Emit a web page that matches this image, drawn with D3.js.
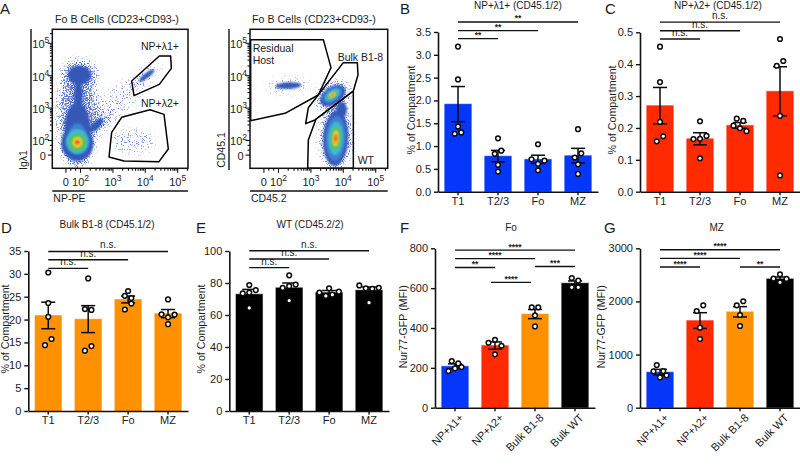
<!DOCTYPE html>
<html>
<head>
<meta charset="utf-8">
<script src="https://cdn.jsdelivr.net/npm/d3@7"></script>
<style>
  html, body { margin: 0; padding: 0; background: #fff; }
  svg text { font-family: "Liberation Sans", Arial, sans-serif; fill: #1c1c1c; }
</style>
</head>
<body>
<svg id="chart" width="800" height="472"></svg>
<script>
// *********** DATA ***************** //
var compartments = ["T1", "T2/3", "Fo", "MZ"];
var populations = ["NP+λ1+", "NP+λ2+", "Bulk B1-8", "Bulk WT"];
var compartmentColors = { b: "#0537fb", c: "#ff2a00", d: "#ff9100", e: "#000000" };
var populationColors = ["#0537fb", "#ff2a00", "#ff9100", "#000000"];

var bMeans = [1.92, 0.78, 0.71, 0.79];
var bSem = [0.385, 0.125, 0.09, 0.16];
var bPoints = [[3.18, 2.46, 1.43, 1.27, 1.30], [1.17, 0.83, 0.90, 0.59, 0.44], [1.04, 0.71, 0.61, 0.68, 0.47], [1.37, 0.75, 0.84, 0.60, 0.39]];
var bSigFrom = [0, 0, 0], bSigTo = [1, 2, 3], bSigLabels = ["**", "**", "**"], bSigLevels = [3.355, 3.53, 3.72];

var cMeans = [0.27, 0.166, 0.208, 0.315];
var cSem = [0.057, 0.019, 0.009, 0.077];
var cPoints = [[0.455, 0.344, 0.219, 0.158, 0.174], [0.221, 0.165, 0.166, 0.175, 0.105], [0.229, 0.222, 0.207, 0.199, 0.19], [0.479, 0.395, 0.41, 0.238, 0.051]];
var cSigFrom = [0, 0, 0], cSigTo = [1, 2, 3], cSigLabels = ["n.s.", "n.s.", "n.s."], cSigLevels = [0.479, 0.505, 0.532];

var dMeans = [20.9, 20.1, 24.4, 21.3];
var dSem = [2.9, 2.95, 0.75, 0.9];
var dPoints = [[30.3, 23.6, 20.6, 14.4, 15.75], [29.0, 22.3, 22.1, 13.2, 14.2], [26.25, 25.2, 24.7, 22.2, 23.5], [24.4, 21.15, 20.5, 21.1, 19.0]];
var dSigFrom = [0, 0, 0], dSigTo = [1, 2, 3], dSigLabels = ["n.s.", "n.s.", "n.s."], dSigLevels = [31.2, 33.1, 34.9];

var eMeans = [73, 77, 74, 75.5];
var eSem = [3, 3, 1.3, 2];
var ePoints = [[78.75, 73.5, 74, 75.6, 64.4], [84.8, 76.9, 78, 79, 69], [76.7, 74, 71.9, 72.7, 74.6], [78.5, 76.7, 76.4, 77, 67.7]];
var eSigFrom = [0, 0, 0], eSigTo = [1, 2, 3], eSigLabels = ["n.s.", "n.s.", "n.s."], eSigLevels = [89.6, 95, 100.2];

var fMeans = [208, 312, 470, 625];
var fSem = [12, 18, 23, 11];
var fPoints = [[234, 222, 184, 197, 204], [326, 341, 311, 268], [504, 504, 463, 408], [651, 638, 604, 604]];
var fSigFrom = [0, 0, 0, 0.9, 2], fSigTo = [1, 2, 3, 1.9, 3];
var fSigLabels = ["**", "****", "****", "****", "***"], fSigLevels = [704, 748, 791, 629, 709];

var gMeans = [670, 1640, 1805, 2425];
var gSem = [52, 148, 97, 35];
var gPoints = [[803, 684, 690, 570, 609], [1820, 1927, 1507, 1293], [1927, 2003, 1745, 1538], [2511, 2430, 2360, 2423]];
var gSigFrom = [0, 0, 0, 2], gSigTo = [1, 2, 3, 3];
var gSigLabels = ["****", "****", "****", "**"], gSigLevels = [2647, 2811, 2973, 2647];

// flow plots: everything in log10 decades. [cx, cy, rx, ry, rotation, density level]
// level 0 is dense scatter, level -1 thin scatter, level 1 and up the pseudo-colour rings
var aBlobs = [
  [1.92, 2.75, 0.60, 1.65, 0, 0], [3.08, 3.13, 1.13, 0.41, -40, -1], [4.06, 4.0, 0.51, 0.23, -40, -1],
  [3.65, 1.95, 0.72, 0.36, 0, -1], [2.62, 2.51, 0.42, 0.17, -45, 0], [1.98, 4.0, 0.55, 0.48, 0, 0],
  [1.98, 4.0, 0.36, 0.30, 0, 1], [1.95, 3.39, 0.14, 0.46, 0, 1], [1.92, 2.36, 0.40, 0.80, 0, 1],
  [1.92, 1.90, 0.50, 0.55, 0, 1], [2.51, 2.46, 0.28, 0.12, -45, 1], [4.06, 3.99, 0.30, 0.08, -38, 1],
  [1.92, 2.05, 0.29, 0.46, 0, 2], [1.92, 1.95, 0.35, 0.38, 0, 3], [1.92, 1.93, 0.26, 0.28, 0, 4],
  [1.92, 1.93, 0.15, 0.165, 0, 5], [1.92, 1.93, 0.10, 0.10, 0, 6], [1.92, 1.93, 0.05, 0.045, 0, 7]
];
var bFlowBlobs = [
  [2.32, 3.68, 0.68, 0.22, -3, -1], [3.69, 3.34, 0.55, 0.40, -35, 0], [3.79, 2.10, 0.47, 1.0, 0, 0],
  [2.32, 3.68, 0.40, 0.10, -3, 1], [3.69, 3.37, 0.44, 0.27, -35, 1], [3.96, 2.93, 0.17, 0.26, 0, 1], [3.78, 2.05, 0.39, 0.85, 3, 1],
  [3.78, 2.05, 0.30, 0.70, 3, 2], [3.68, 3.39, 0.33, 0.20, -35, 2],
  [3.78, 2.05, 0.23, 0.51, 3, 3], [3.68, 3.39, 0.26, 0.13, -35, 3],
  [3.78, 2.05, 0.165, 0.37, 3, 4], [3.68, 3.39, 0.185, 0.09, -35, 4],
  [3.78, 2.05, 0.09, 0.25, 3, 5], [3.68, 3.39, 0.11, 0.06, -35, 5],
  [3.78, 2.05, 0.06, 0.175, 3, 6], [3.68, 3.39, 0.07, 0.04, -35, 6],
  [3.78, 2.05, 0.03, 0.10, 3, 7], [3.68, 3.39, 0.04, 0.02, -35, 7]
];
var lambda1Gate = [[3.595, 3.821], [4.449, 4.593], [4.798, 4.593], [4.819, 4.212], [4.449, 3.718], [3.667, 3.368]];
var lambda2Gate = [[3.286, 2.70], [4.16, 2.936], [4.593, 2.792], [4.726, 1.722], [4.438, 1.331], [3.358, 1.352], [2.895, 1.475], [2.977, 2.237]];
var hostGate = [[1.156, 5.097], [3.399, 5.097], [3.636, 4.233], [3.245, 3.389], [2.216, 2.823], [1.156, 2.597]];
var bulkGate = [[4.016, 4.387], [4.449, 4.387], [4.469, 4.006], [4.325, 3.512], [3.142, 2.617], [2.854, 2.504], [2.936, 2.998]];
var wtGate = [[4.325, 3.512], [4.325, 1.125], [2.916, 1.125], [2.936, 2.0], [3.173, 2.648]];
var flowMajor = [1.55, 2, 3, 4, 5];
var flowLabels = ["0", "2", "3", "4", "5"];
var flowMinor = [1.7, 1.85, 2.3, 2.48, 2.6, 2.7, 2.78, 2.85, 2.9, 2.95, 3.3, 3.48, 3.6, 3.7, 3.78, 3.85, 3.9, 3.95, 4.3, 4.48, 4.6, 4.7, 4.78, 4.85, 4.9, 4.95, 5.3];
// *********** END DATA ************* //

var svg = d3.select("#chart");
var defs = svg.append("defs");

// soft edge for the density rings
defs.append("filter").attr("id", "soft").append("feGaussianBlur").attr("stdDeviation", 1.1);

// grainy edge for the sparse events
var speckle = defs.append("filter").attr("id", "speckle")
  .attr("filterUnits", "userSpaceOnUse").attr("x", 0).attr("y", 0).attr("width", 400).attr("height", 200)
  .attr("color-interpolation-filters", "sRGB");
speckle.append("feGaussianBlur").attr("in", "SourceAlpha").attr("stdDeviation", 5).attr("result", "b");
speckle.append("feTurbulence").attr("type", "fractalNoise").attr("baseFrequency", 0.85).attr("numOctaves", 1).attr("seed", 4).attr("result", "n");
speckle.append("feColorMatrix").attr("in", "n").attr("type", "matrix")
  .attr("values", "0 0 0 0 0  0 0 0 0 0  0 0 0 0 0  3.5 0 0 0 -1.4").attr("result", "na");
speckle.append("feComposite").attr("in", "b").attr("in2", "na").attr("operator", "arithmetic")
  .attr("k1", 0).attr("k2", 1).attr("k3", 1).attr("k4", -1).attr("result", "sum");
speckle.append("feComponentTransfer").attr("in", "sum").attr("result", "hard")
  .append("feFuncA").attr("type", "linear").attr("slope", 2.2).attr("intercept", 0);
speckle.append("feFlood").attr("flood-color", "#5b78d6").attr("result", "col");
speckle.append("feComposite").attr("in", "col").attr("in2", "hard").attr("operator", "in");

var levelColor = d3.scaleLinear()
  .domain([1, 2, 3, 4, 5, 6, 7])
  .range(["#3559b8", "#3f7fd0", "#39bdd6", "#5cbc4c", "#e6e238", "#f6952a", "#ec1c24"]);

// *********** FLOW PLOTS ***************** //
function flowPlot(id, o) {
  var x = d3.scaleLinear().domain([2, 5]).range([o.x2, o.x2 + 97.2]);
  var y = d3.scaleLinear().domain([2, 5]).range([140, 42.8]);
  var g = svg.append("g").attr("class", id);

  defs.append("clipPath").attr("id", "clip-" + id).append("rect")
    .attr("x", o.left).attr("y", 29.3).attr("width", o.right - o.left).attr("height", 139);

  var plot = g.append("g").attr("clip-path", "url(#clip-" + id + ")");
  plot.append("g").attr("filter", "url(#speckle)")
    .selectAll("ellipse").data(o.blobs.filter(function(d) { return d[5] <= 0; })).join("ellipse")
    .call(placeBlob, x, y).attr("fill", "#000")
    .attr("fill-opacity", function(d) { return d[5] === 0 ? 1 : 0.42; });
  plot.append("g").attr("filter", "url(#soft)")
    .selectAll("ellipse").data(o.blobs.filter(function(d) { return d[5] > 0; })).join("ellipse")
    .call(placeBlob, x, y).attr("fill", function(d) { return levelColor(d[5]); });

  var line = d3.line().x(function(d) { return x(d[0]); }).y(function(d) { return y(d[1]); }).curve(d3.curveLinearClosed);
  g.selectAll("path.gate").data(o.gates).join("path")
    .attr("class", "gate").attr("d", line)
    .attr("fill", "none").attr("stroke", "#000").attr("stroke-width", 1.5).attr("stroke-linejoin", "round");

  // frame
  g.append("rect").attr("x", o.left).attr("y", 29.3).attr("width", o.right - o.left).attr("height", 139)
    .attr("fill", "none").attr("stroke", "#111").attr("stroke-width", 1.5);

  // minor then major ticks
  var bottomY = 168.3;
  g.append("g").attr("transform", "translate(0," + bottomY + ")")
    .call(d3.axisBottom(x).tickValues(flowMinor).tickSize(2.5).tickFormat(""))
    .call(cleanFlowAxis);
  g.append("g").attr("transform", "translate(" + o.left + ",0)")
    .call(d3.axisLeft(y).tickValues(flowMinor).tickSize(2.5).tickFormat(""))
    .call(cleanFlowAxis);

  var xAxis = g.append("g").attr("transform", "translate(0," + bottomY + ")")
    .call(d3.axisBottom(x).tickValues(flowMajor).tickSize(4.5).tickFormat(""))
    .call(cleanFlowAxis);
  xAxis.selectAll(".tick text").attr("y", 17.7).attr("dy", 0).attr("text-anchor", "middle")
    .each(function(d, i) { powerLabel(d3.select(this), i); });

  var yAxis = g.append("g").attr("transform", "translate(" + o.left + ",0)")
    .call(d3.axisLeft(y).tickValues(flowMajor).tickSize(4.5).tickFormat(""))
    .call(cleanFlowAxis);
  yAxis.selectAll(".tick text").attr("x", -3).attr("dy", 4.8).attr("text-anchor", "end")
    .each(function(d, i) { powerLabel(d3.select(this), i); });
  yAxis.selectAll(".tick").filter(function(d, i) { return i === 0; }).select("text").attr("x", -6.5);

  // rules beside the plot
  g.append("line").attr("x1", o.rule).attr("x2", o.rule).attr("y1", 29).attr("y2", 170)
    .attr("stroke", "#111").attr("stroke-width", 1.4);
  g.append("line").attr("x1", o.left).attr("x2", o.right).attr("y1", 191).attr("y2", 191)
    .attr("stroke", "#111").attr("stroke-width", 1.4);

  g.append("text").attr("x", o.left + 1).attr("y", 201.5).style("font-size", "10.5px").text(o.xTitle);
  g.append("text").attr("transform", "translate(" + (o.rule - 4) + "," + o.yTitleAt + ") rotate(-90)")
    .attr("text-anchor", "middle").style("font-size", "10.5px").text(o.yTitle);
  g.append("text").attr("x", o.titleAt).attr("y", 23).attr("text-anchor", "middle")
    .style("font-size", "10.7px").text("Fo B Cells (CD23+CD93-)");

  return g;
}

function placeBlob(sel, x, y) {
  sel.attr("cx", function(d) { return x(d[0]); })
    .attr("cy", function(d) { return y(d[1]); })
    .attr("rx", function(d) { return x(d[2]) - x(0); })
    .attr("ry", function(d) { return y(0) - y(d[3]); })
    .attr("transform", function(d) { return "rotate(" + d[4] + " " + x(d[0]) + " " + y(d[1]) + ")"; });
}

function cleanFlowAxis(sel) {
  sel.select(".domain").remove();
  sel.selectAll(".tick line").attr("stroke", "#111").attr("stroke-width", 1.1);
  sel.selectAll(".tick text").style("font-size", "11px").style("font-family", null);
  sel.attr("font-family", null).attr("font-size", null);
}

function powerLabel(t, i) {
  if (i === 0) { t.text("0"); return; }
  t.text("10");
  t.append("tspan").attr("dy", -5).style("font-size", "8.5px").text(flowLabels[i]);
}

var flowA = flowPlot("flow-a", {
  x2: 80, left: 52.3, right: 188, rule: 31, yTitleAt: 160, titleAt: 117,
  blobs: aBlobs, gates: [lambda1Gate, lambda2Gate], xTitle: "NP-PE", yTitle: "Igλ1"
});
flowA.append("text").attr("x", 160).attr("y", 50).attr("text-anchor", "middle").style("font-size", "10.5px").text("NP+λ1+");
flowA.append("text").attr("x", 160).attr("y", 107).attr("text-anchor", "middle").style("font-size", "10.5px").text("NP+λ2+");

var flowB = flowPlot("flow-b", {
  x2: 278, left: 250, right: 387.7, rule: 229, yTitleAt: 150, titleAt: 314,
  blobs: bFlowBlobs, gates: [hostGate, wtGate, bulkGate], xTitle: "CD45.2", yTitle: "CD45.1"
});
flowB.append("text").attr("x", 252.7).attr("y", 52).style("font-size", "10.5px").text("Residual");
flowB.append("text").attr("x", 252.7).attr("y", 64).style("font-size", "10.5px").text("Host");
flowB.append("text").attr("x", 337.7).attr("y", 61).style("font-size", "10.5px").text("Bulk B1-8");
flowB.append("text").attr("x", 357.7).attr("y", 164).style("font-size", "10.5px").text("WT");
// *********** END FLOW PLOTS ************* //

// *********** BAR PANELS ***************** //
function swarm(values, y) {
  // rows of near-equal values spread out evenly, keeping the listed order inside a row
  var order = values.map(function(v, i) { return { v: v, i: i, off: 0 }; })
    .sort(function(a, b) { return a.v - b.v; });
  var row = [];
  function flush() {
    row.sort(function(a, b) { return a.i - b.i; });
    row.forEach(function(p, k) { p.off = (k - (row.length - 1) / 2) * 6.5; });
    row = [];
  }
  order.forEach(function(p) {
    if (row.length && y(row[0].v) - y(p.v) >= 6.3) flush();
    row.push(p);
  });
  flush();
  return order;
}

function barPanel(o) {
  var cats = o.categories;
  var x = d3.scaleBand().domain(cats).range([o.x0, o.x1]).paddingInner(1 / 3).paddingOuter(1 / 6);
  var y = d3.scaleLinear().domain([0, o.max]).range([o.y0, o.y1]);
  var g = svg.append("g");
  var center = function(c) { return x(c) + x.bandwidth() / 2; };
  var atIndex = function(i) { return center(cats[0]) + i * x.step(); };
  var colorOf = function(i) { return Array.isArray(o.color) ? o.color[i] : o.color; };

  g.selectAll("rect.bar").data(o.means).join("rect")
    .attr("class", "bar")
    .attr("x", function(d, i) { return x(cats[i]); })
    .attr("y", function(d) { return y(d); })
    .attr("width", x.bandwidth())
    .attr("height", function(d) { return y(0) - y(d); })
    .attr("fill", function(d, i) { return colorOf(i); })
    .attr("stroke", function(d, i) { return colorOf(i); })
    .attr("stroke-opacity", 0.45);

  // sem bars
  var err = g.selectAll("g.err").data(o.means).join("g").attr("class", "err")
    .attr("stroke", "#0a0a0a").attr("stroke-width", 1.5);
  err.append("line")
    .attr("x1", function(d, i) { return center(cats[i]); }).attr("x2", function(d, i) { return center(cats[i]); })
    .attr("y1", function(d, i) { return y(d - o.sem[i]); }).attr("y2", function(d, i) { return y(d + o.sem[i]); });
  [-1, 1].forEach(function(sign) {
    err.append("line")
      .attr("x1", function(d, i) { return center(cats[i]) - 7; }).attr("x2", function(d, i) { return center(cats[i]) + 7; })
      .attr("y1", function(d, i) { return y(d + sign * o.sem[i]); }).attr("y2", function(d, i) { return y(d + sign * o.sem[i]); });
  });

  // points
  o.points.forEach(function(vals, i) {
    g.append("g").selectAll("circle").data(swarm(vals, y)).join("circle")
      .attr("cx", function(d) { return center(cats[i]) + d.off; })
      .attr("cy", function(d) { return y(d.v); })
      .attr("r", 2.35)
      .attr("fill", "#fff").attr("stroke", "#0a0a0a").attr("stroke-width", 1.5);
  });

  // axes
  var yAxis = g.append("g").attr("transform", "translate(" + o.x0 + ",0)")
    .call(d3.axisLeft(y).tickValues(o.ticks).tickFormat(o.format).tickSize(4).tickSizeOuter(0))
    .call(styleAxis);
  var xAxis = g.append("g").attr("transform", "translate(0," + o.y0 + ")")
    .call(d3.axisBottom(x).tickSize(3.5).tickSizeOuter(0))
    .call(styleAxis);
  xAxis.selectAll(".tick text").attr("y", 5.5);
  if (o.slanted) {
    xAxis.selectAll(".tick text").attr("text-anchor", "end").attr("x", -1).attr("y", 7.5).attr("dy", "0.6em")
      .attr("transform", "rotate(-45)");
  }

  g.append("text").attr("transform", "translate(" + o.yTitleX + "," + o.yTitleY + ") rotate(-90)")
    .attr("text-anchor", "middle").style("font-size", "10.7px").text(o.yTitle);
  g.append("text").attr("x", o.titleX).attr("y", o.titleY).attr("text-anchor", "middle")
    .style("font-size", "10px").text(o.title);

  // significance lines
  o.sigLabels.forEach(function(label, i) {
    var x1 = atIndex(o.sigFrom[i]), x2 = atIndex(o.sigTo[i]), yy = y(o.sigLevels[i]);
    g.append("line").attr("x1", x1).attr("x2", x2).attr("y1", yy).attr("y2", yy)
      .attr("stroke", "#111").attr("stroke-width", 1.4);
    var stars = label.charAt(0) === "*";
    g.append("text").attr("x", (x1 + x2) / 2).attr("y", stars ? yy - 0.5 : yy - 3)
      .attr("text-anchor", "middle")
      .style("font-size", stars ? "8.5px" : "10px")
      .style("font-weight", stars ? "bold" : null)
      .text(label);
  });
}

function styleAxis(sel) {
  sel.attr("font-family", null).attr("font-size", null);
  sel.select(".domain").attr("stroke", "#111").attr("stroke-width", 1.6);
  sel.selectAll(".tick line").attr("stroke", "#111").attr("stroke-width", 1.4);
  sel.selectAll(".tick text").style("font-size", "11px");
}

barPanel({ categories: compartments, color: compartmentColors.b, means: bMeans, sem: bSem, points: bPoints,
  sigFrom: bSigFrom, sigTo: bSigTo, sigLabels: bSigLabels, sigLevels: bSigLevels,
  x0: 438, x1: 598, y0: 191.7, y1: 32, max: 3.5, ticks: d3.range(0, 3.51, 0.5), format: d3.format(".1f"),
  yTitle: "% of Compartment", yTitleX: 415, yTitleY: 110, title: "NP+λ1+ (CD45.1/2)", titleX: 518, titleY: 9 });

barPanel({ categories: compartments, color: compartmentColors.c, means: cMeans, sem: cSem, points: cPoints,
  sigFrom: cSigFrom, sigTo: cSigTo, sigLabels: cSigLabels, sigLevels: cSigLevels,
  x0: 640, x1: 800, y0: 191.7, y1: 32.3, max: 0.5, ticks: d3.range(0, 0.51, 0.1), format: d3.format(".1f"),
  yTitle: "% of Compartment", yTitleX: 616, yTitleY: 110, title: "NP+λ2+ (CD45.1/2)", titleX: 718, titleY: 9 });

barPanel({ categories: compartments, color: compartmentColors.d, means: dMeans, sem: dSem, points: dPoints,
  sigFrom: dSigFrom, sigTo: dSigTo, sigLabels: dSigLabels, sigLevels: dSigLevels,
  x0: 28.3, x1: 188, y0: 411, y1: 251, max: 35, ticks: d3.range(0, 36, 5), format: d3.format("d"),
  yTitle: "% of Compartment", yTitleX: 9, yTitleY: 329, title: "Bulk B1-8 (CD45.1/2)", titleX: 107, titleY: 227.5 });

barPanel({ categories: compartments, color: compartmentColors.e, means: eMeans, sem: eSem, points: ePoints,
  sigFrom: eSigFrom, sigTo: eSigTo, sigLabels: eSigLabels, sigLevels: eSigLevels,
  x0: 229.3, x1: 389, y0: 411, y1: 251, max: 100, ticks: d3.range(0, 101, 20), format: d3.format("d"),
  yTitle: "% of Compartment", yTitleX: 205, yTitleY: 329, title: "WT (CD45.2/2)", titleX: 310, titleY: 227.5 });

barPanel({ categories: populations, color: populationColors, means: fMeans, sem: fSem, points: fPoints,
  sigFrom: fSigFrom, sigTo: fSigTo, sigLabels: fSigLabels, sigLevels: fSigLevels, slanted: true,
  x0: 435, x1: 595, y0: 407.7, y1: 248.3, max: 800, ticks: d3.range(0, 801, 200), format: d3.format("d"),
  yTitle: "Nur77-GFP (MFI)", yTitleX: 406.5, yTitleY: 326.7, title: "Fo", titleX: 511, titleY: 231 });

barPanel({ categories: populations, color: populationColors, means: gMeans, sem: gSem, points: gPoints,
  sigFrom: gSigFrom, sigTo: gSigTo, sigLabels: gSigLabels, sigLevels: gSigLevels, slanted: true,
  x0: 640, x1: 800, y0: 407.7, y1: 248.3, max: 3000, ticks: d3.range(0, 3001, 1000), format: d3.format("d"),
  yTitle: "Nur77-GFP (MFI)", yTitleX: 605, yTitleY: 326.7, title: "MZ", titleX: 716.7, titleY: 231 });
// *********** END BAR PANELS ************* //

// panel letters
var panelLetters = ["A", "B", "C", "D", "E", "F", "G"];
var letterX = [0, 400, 605, 1, 196, 400, 604];
var letterY = [14, 14, 14, 233, 233, 233, 233];
svg.selectAll("text.letter").data(panelLetters).join("text")
  .attr("class", "letter")
  .attr("x", function(d, i) { return letterX[i]; })
  .attr("y", function(d, i) { return letterY[i]; })
  .style("font-size", "15px")
  .text(function(d) { return d; });
</script>
</body>
</html>
